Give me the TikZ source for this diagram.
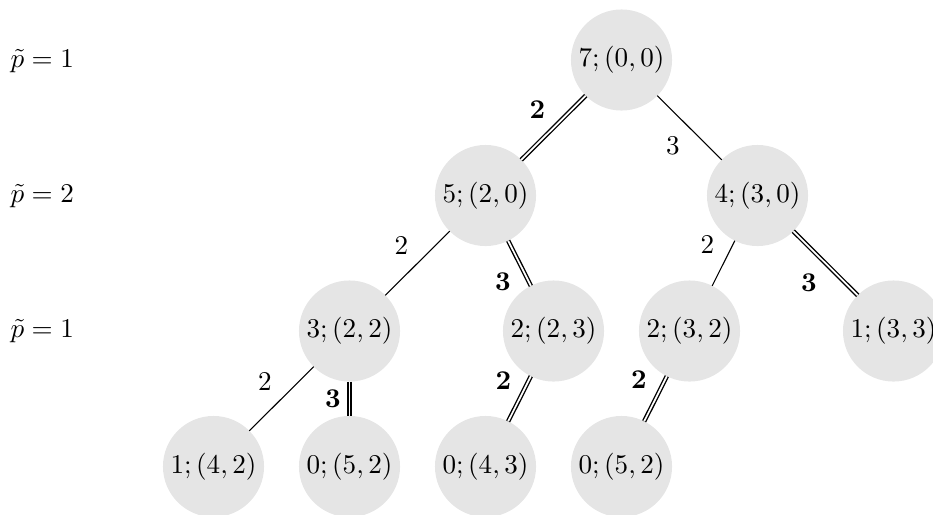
\documentclass[tikz,border=0pt]{standalone}
\begin{document}
\begin{tikzpicture}[x=0.369pt,y=-0.369pt,
  st/.style={circle,fill=gray!20,minimum size=37.3pt,inner sep=0pt,outer sep=0pt},
  sel/.style={double,line width=0.5pt,double distance=0.65pt},
  lbl/.style={inner sep=0pt}]
\useasboundingbox (0,0) rectangle (933,514);
\node[lbl,anchor=west] (l1) at (10,61) {$\tilde{p}=1$};
\node[lbl,anchor=west] (l2) at (10,196) {$\tilde{p}=2$};
\node[lbl,anchor=west] (l3) at (10,331) {$\tilde{p}=1$};
\node[st] (a) at (621.5,60) {$7;(0,0)$};
\node[st] (b) at (485.5,195.5) {$5;(2,0)$};
\node[st] (c) at (757.5,195.5) {$4;(3,0)$};
\node[st] (d) at (349.5,331) {$3;(2,2)$};
\node[st] (e) at (553.5,331) {$2;(2,3)$};
\node[st] (f) at (689.5,331) {$2;(3,2)$};
\node[st] (g) at (893.5,331) {$1;(3,3)$};
\node[st] (h) at (213.5,466.5) {$1;(4,2)$};
\node[st] (i) at (349.5,466.5) {$0;(5,2)$};
\node[st] (j) at (485.5,466.5) {$0;(4,3)$};
\node[st] (k) at (621.5,466.5) {$0;(5,2)$};
\draw[sel] (a) -- node[lbl,shift={(-16,-18)}] {$\mathbf{2}$} (b);
\draw (a) -- node[lbl,shift={(-16.5,18)}] {$3$} (c);
\draw (b) -- node[lbl,shift={(-16,-17)}] {$2$} (d);
\draw[sel] (b) -- node[lbl,shift={(-16.5,18.5)}] {$\mathbf{3}$} (e);
\draw (c) -- node[lbl,shift={(-16,-18)}] {$2$} (f);
\draw[sel] (c) -- node[lbl,shift={(-16.5,19.5)}] {$\mathbf{3}$} (g);
\draw (d) -- node[lbl,shift={(-16.5,-17)}] {$2$} (h);
\draw[sel] (d) -- node[lbl,shift={(-16.5,0)}] {$\mathbf{3}$} (i);
\draw[sel] (e) -- node[lbl,shift={(-16,-18)}] {$\mathbf{2}$} (j);
\draw[sel] (f) -- node[lbl,shift={(-16.5,-19)}] {$\mathbf{2}$} (k);
\end{tikzpicture}
\end{document}
